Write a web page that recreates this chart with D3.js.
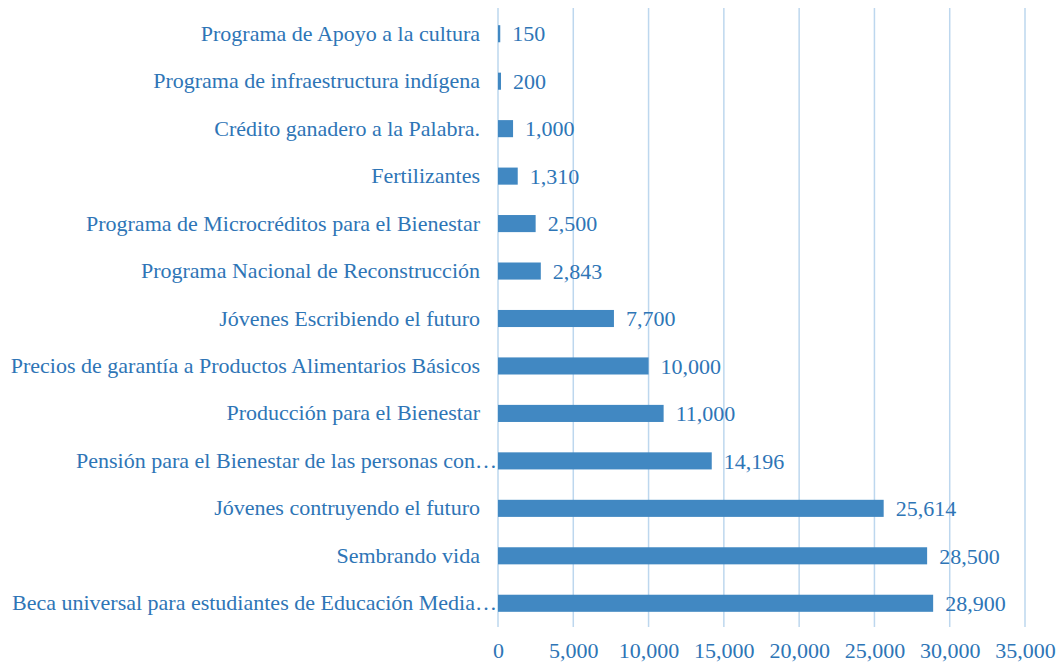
<!DOCTYPE html>
<html>
<head>
<meta charset="utf-8">
<script src="https://cdn.jsdelivr.net/npm/d3@7"></script>
<style>
  body { margin: 0; background: #fff; }
  svg text { font-family: "Liberation Serif", "Times New Roman", serif; }
</style>
</head>
<body>
<script>
// categories, top to bottom
const programas = [
    "Programa de Apoyo a la cultura",
    "Programa de infraestructura indígena",
    "Crédito ganadero a la Palabra.",
    "Fertilizantes",
    "Programa de Microcréditos para el Bienestar",
    "Programa Nacional de Reconstrucción",
    "Jóvenes Escribiendo el futuro",
    "Precios de garantía a Productos Alimentarios Básicos",
    "Producción para el Bienestar",
    "Pensión para el Bienestar de las personas con…",
    "Jóvenes contruyendo el futuro",
    "Sembrando vida",
    "Beca universal para estudiantes de Educación Media…"
];
const montos = [150, 200, 1000, 1310, 2500, 2843, 7700, 10000, 11000, 14196, 25614, 28500, 28900];
const xTicks = [0, 5000, 10000, 15000, 20000, 25000, 30000, 35000];

const w = 1060;
const h = 663;
const textColor = "#2E75B6";
const barColor = "#4188C2";
const gridColor = "#BDD7EE";

const svg = d3.select('body')
    .append('svg')
    .attr('width', w)
    .attr('height', h);

const xScale = d3.scaleLinear()
    .domain([0, 35000])
    .range([498, 1025]);

const yScale = d3.scaleBand()
    .domain(programas)
    .range([10, 627])
    .paddingInner(0.64)
    .paddingOuter(0.32);

// gridlines
svg.append('g')
    .selectAll('line')
    .data(xTicks)
    .enter()
    .append('line')
    .attr('x1', (d) => xScale(d))
    .attr('x2', (d) => xScale(d))
    .attr('y1', 8)
    .attr('y2', 627)
    .attr('stroke', gridColor)
    .attr('stroke-width', 1.5);

// bars
const data = programas.map((p, i) => ({ name: p, value: montos[i] }));

svg.append('g')
    .selectAll('rect')
    .data(data)
    .enter()
    .append('rect')
    .attr('x', xScale(0))
    .attr('y', (d) => yScale(d.name))
    .attr('width', (d) => Math.max(xScale(d.value) - xScale(0), 1.5))
    .attr('height', yScale.bandwidth())
    .attr('fill', barColor);

// value labels
svg.append('g')
    .selectAll('text')
    .data(data)
    .enter()
    .append('text')
    .attr('x', (d) => xScale(d.value) + 12)
    .attr('y', (d) => yScale(d.name) + yScale.bandwidth() / 2)
    .attr('dy', '0.35em')
    .attr('fill', textColor)
    .style('font-size', '22px')
    .text((d) => d3.format(',')(d.value));

// category axis
const yAxis = d3.axisLeft(yScale).tickSize(0).tickPadding(18);
const yG = svg.append('g')
    .attr('transform', `translate(${xScale(0)}, 0)`)
    .call(yAxis);
yG.select('.domain').remove();
yG.selectAll('text')
    .attr('fill', textColor)
    .style('font-size', '22px')
    // truncated labels run right up to the axis
    .attr('x', (d) => d.endsWith('…') ? -1 : -18);

// value axis
const xAxis = d3.axisBottom(xScale).tickValues(xTicks).tickSize(0).tickPadding(14).tickFormat(d3.format(','));
const xG = svg.append('g')
    .attr('transform', 'translate(0, 628)')
    .call(xAxis);
xG.select('.domain').remove();
xG.selectAll('text')
    .attr('fill', textColor)
    .style('font-size', '22px');
</script>
</body>
</html>
